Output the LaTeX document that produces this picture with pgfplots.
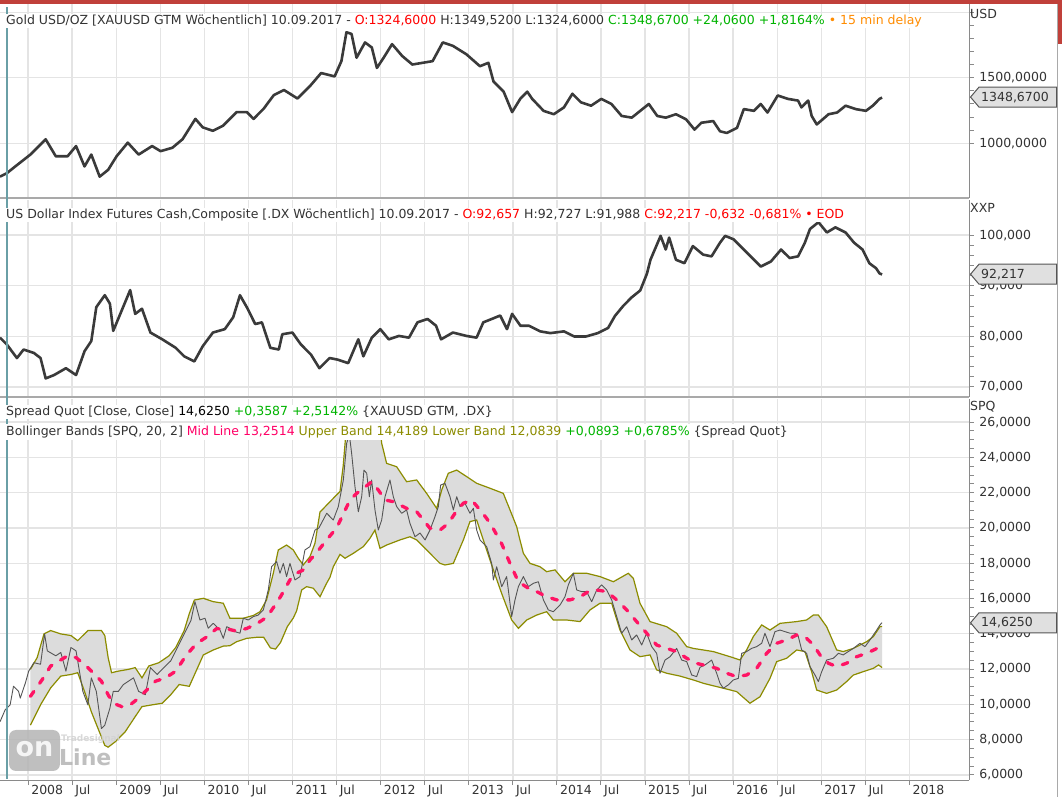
\documentclass[border=0pt]{standalone}
\usepackage{fontspec}
\setmainfont{DejaVu Sans}
\usepackage{pgfplots}
\usepackage{pgfplotstable}
\pgfplotsset{compat=1.18}

\definecolor{gridc}{HTML}{E4E4E4}
\definecolor{axc}{HTML}{8A8A8A}
\definecolor{sepc}{HTML}{A9A9A9}
\definecolor{txtc}{HTML}{333333}
\definecolor{candle}{HTML}{3A3A3A}
\definecolor{spreadc}{HTML}{555555}
\definecolor{bandc}{HTML}{8C8C00}
\definecolor{bandfill}{HTML}{DCDCDC}
\definecolor{midc}{HTML}{FF1464}
\definecolor{gcol}{HTML}{00B400}
\definecolor{ocol}{HTML}{FF8C00}
\definecolor{rcol}{HTML}{FF0000}
\definecolor{pcol}{HTML}{FF0066}
\definecolor{topred}{HTML}{C0403A}
\definecolor{tealc}{HTML}{6A9FA6}
\definecolor{boxc}{HTML}{E0E0E0}
\definecolor{boxd}{HTML}{555555}
\definecolor{wmc}{HTML}{B4B4B4}

\newcommand\tf{\fontsize{12.5pt}{14pt}\selectfont}

\pgfplotsset{
 panel/.style={
  scale only axis, width=969.4pt,
  xmin=2007.681, xmax=2018.681,
  axis x line*=bottom, axis y line*=right,
  xtick={2008,2008.5,2009,2009.5,2010,2010.5,2011,2011.5,2012,2012.5,2013,2013.5,2014,2014.5,2015,2015.5,2016,2016.5,2017,2017.5,2018},
  grid=major,
  major grid style={draw=gridc, line width=1.4pt},
  tick align=outside,
  major tick length=4.5pt, minor tick length=4.5pt,
  ytick style={draw=axc, line width=0.9pt},
  y axis line style={draw=axc, line width=1.6pt},
  yticklabel style={font=\tf, text=txtc, xshift=2pt},
  clip=true,
 },
}

\pgfplotstableread{
x y
2007.681 744.5
2007.758 770.4
2007.854 822.4
2008.026 913.2
2008.199 1030.0
2008.314 900.2
2008.448 900.2
2008.544 978.1
2008.640 822.4
2008.717 913.2
2008.812 744.5
2008.908 796.4
2009.004 900.2
2009.131 1004.1
2009.254 913.2
2009.407 978.1
2009.503 939.2
2009.637 965.1
2009.752 1030.0
2009.898 1185.8
2009.982 1120.9
2010.097 1094.9
2010.212 1133.9
2010.366 1237.7
2010.481 1237.7
2010.558 1185.8
2010.673 1263.7
2010.788 1367.5
2010.903 1406.5
2011.056 1341.6
2011.210 1445.4
2011.325 1536.3
2011.478 1510.3
2011.555 1627.1
2011.612 1847.8
2011.670 1834.8
2011.727 1653.1
2011.823 1769.9
2011.900 1731.0
2011.958 1575.2
2012.034 1653.1
2012.130 1756.9
2012.245 1666.1
2012.360 1601.2
2012.475 1614.1
2012.590 1627.1
2012.705 1769.9
2012.820 1743.9
2012.974 1679.0
2013.127 1588.2
2013.223 1614.1
2013.281 1471.4
2013.396 1393.5
2013.492 1237.7
2013.587 1341.6
2013.664 1393.5
2013.720 1338.7
2013.849 1247.4
2013.965 1221.4
2014.080 1273.5
2014.176 1377.7
2014.273 1312.6
2014.388 1286.5
2014.504 1338.7
2014.619 1299.6
2014.735 1208.4
2014.850 1195.3
2015.043 1299.6
2015.139 1208.4
2015.235 1195.3
2015.351 1221.4
2015.466 1182.3
2015.562 1104.1
2015.639 1156.2
2015.774 1169.3
2015.851 1091.1
2015.928 1078.1
2016.044 1117.2
2016.121 1260.5
2016.236 1247.4
2016.313 1299.6
2016.390 1234.4
2016.506 1364.7
2016.621 1338.7
2016.737 1325.6
2016.775 1273.5
2016.852 1325.6
2016.891 1208.4
2016.949 1143.2
2017.083 1221.4
2017.180 1234.4
2017.276 1286.5
2017.391 1260.5
2017.507 1247.4
2017.584 1286.5
2017.661 1338.7
2017.690 1348.7
}\tabGold

\pgfplotstableread{
x y
2007.681 79.74
2007.758 78.40
2007.873 75.71
2007.949 77.39
2008.065 76.72
2008.141 75.71
2008.199 71.68
2008.295 72.35
2008.429 73.70
2008.544 72.35
2008.640 77.05
2008.717 79.07
2008.774 85.78
2008.870 88.13
2008.928 86.46
2008.966 81.08
2009.062 85.11
2009.158 89.14
2009.215 84.44
2009.292 85.45
2009.388 80.75
2009.522 79.41
2009.675 77.73
2009.771 76.05
2009.886 75.04
2009.982 78.06
2010.097 80.75
2010.232 81.42
2010.327 83.77
2010.404 88.13
2010.481 85.78
2010.577 82.43
2010.653 82.76
2010.749 77.73
2010.845 77.39
2010.884 80.41
2010.999 80.75
2011.095 78.40
2011.210 76.38
2011.305 73.70
2011.421 75.71
2011.516 75.38
2011.632 74.70
2011.747 79.41
2011.804 76.05
2011.900 79.74
2011.996 81.42
2012.092 79.41
2012.207 80.08
2012.322 79.74
2012.418 82.76
2012.533 83.43
2012.629 82.09
2012.686 79.41
2012.820 80.75
2012.974 80.08
2013.089 79.74
2013.165 82.76
2013.357 84.11
2013.434 81.42
2013.492 84.44
2013.587 82.09
2013.683 82.09
2013.811 80.98
2013.926 80.64
2014.080 80.98
2014.196 79.97
2014.330 79.97
2014.465 80.64
2014.581 81.66
2014.658 84.01
2014.754 86.04
2014.850 87.72
2014.946 89.07
2015.023 92.44
2015.062 95.14
2015.177 99.86
2015.235 97.16
2015.274 99.52
2015.351 95.14
2015.447 94.46
2015.543 97.84
2015.659 96.15
2015.755 95.81
2015.851 98.51
2015.909 99.86
2016.005 99.18
2016.101 97.50
2016.198 95.81
2016.313 93.79
2016.429 94.80
2016.544 97.16
2016.641 95.48
2016.737 95.81
2016.814 98.51
2016.872 101.21
2016.968 102.56
2017.064 100.53
2017.160 101.54
2017.276 100.53
2017.372 98.51
2017.468 97.16
2017.545 94.46
2017.622 93.46
2017.661 92.44
2017.690 92.22
}\tabDx

\pgfplotstableread{
x y
2007.681 9.01
2007.739 9.68
2007.796 9.97
2007.834 11.02
2007.892 10.73
2007.911 10.35
2007.969 11.21
2008.007 11.88
2008.065 12.36
2008.141 12.27
2008.187 13.99
2008.218 13.03
2008.314 12.75
2008.371 12.94
2008.429 11.88
2008.486 13.22
2008.544 13.03
2008.582 11.88
2008.621 10.73
2008.678 9.97
2008.717 11.50
2008.774 10.73
2008.832 8.63
2008.870 8.82
2008.928 9.78
2008.966 10.73
2009.023 10.73
2009.081 11.12
2009.138 11.31
2009.196 11.50
2009.254 10.73
2009.330 10.54
2009.388 12.08
2009.464 11.69
2009.541 12.08
2009.618 12.46
2009.695 13.22
2009.771 13.99
2009.848 14.76
2009.893 15.82
2009.950 14.78
2010.007 14.88
2010.044 14.31
2010.101 14.59
2010.139 14.40
2010.177 14.21
2010.215 13.74
2010.253 14.40
2010.290 14.31
2010.347 14.12
2010.404 14.03
2010.442 14.88
2010.498 14.78
2010.555 14.97
2010.612 15.06
2010.669 15.35
2010.725 16.48
2010.763 17.80
2010.820 18.09
2010.858 17.43
2010.896 17.99
2010.933 17.24
2010.971 17.99
2011.028 17.05
2011.085 17.24
2011.141 18.75
2011.198 18.94
2011.255 19.88
2011.300 20.00
2011.388 20.83
2011.463 20.45
2011.520 21.21
2011.577 22.72
2011.615 24.80
2011.645 25.30
2011.671 24.23
2011.709 22.34
2011.747 20.92
2011.785 21.77
2011.811 23.28
2011.842 23.10
2011.872 21.77
2011.898 22.72
2011.936 21.02
2011.974 19.88
2012.012 20.45
2012.050 21.77
2012.106 22.72
2012.144 21.77
2012.182 21.21
2012.239 20.83
2012.295 21.02
2012.333 20.26
2012.390 19.50
2012.447 19.71
2012.504 19.32
2012.560 19.88
2012.617 20.64
2012.655 21.21
2012.681 22.43
2012.730 22.53
2012.787 21.77
2012.825 21.02
2012.863 21.77
2012.901 21.21
2012.957 21.40
2013.014 20.83
2013.052 21.11
2013.090 19.88
2013.128 19.32
2013.203 18.94
2013.260 17.99
2013.279 17.05
2013.317 17.80
2013.374 16.67
2013.430 17.24
2013.487 14.97
2013.525 15.92
2013.563 16.67
2013.620 17.24
2013.676 16.67
2013.733 16.86
2013.790 16.95
2013.847 15.92
2013.903 15.35
2013.960 15.25
2014.036 15.63
2014.092 16.10
2014.130 16.77
2014.187 17.43
2014.225 16.48
2014.281 16.39
2014.338 16.39
2014.395 15.82
2014.452 16.48
2014.508 16.77
2014.565 16.48
2014.622 15.92
2014.679 14.97
2014.735 14.03
2014.792 14.40
2014.849 13.65
2014.905 13.93
2014.962 13.36
2015.019 14.03
2015.076 13.27
2015.132 12.89
2015.170 11.76
2015.227 12.51
2015.284 12.70
2015.359 13.17
2015.416 12.51
2015.473 12.42
2015.530 11.66
2015.586 11.57
2015.624 12.10
2015.681 12.23
2015.756 12.51
2015.813 11.76
2015.851 11.19
2015.889 10.91
2015.945 11.10
2016.002 11.38
2016.059 11.47
2016.097 12.89
2016.153 12.99
2016.210 13.17
2016.267 13.27
2016.324 13.46
2016.361 14.03
2016.418 13.27
2016.475 14.12
2016.532 14.21
2016.588 14.12
2016.645 14.03
2016.702 14.03
2016.740 13.84
2016.778 13.08
2016.834 12.89
2016.872 12.14
2016.929 11.66
2016.967 11.29
2017.005 11.85
2017.061 12.51
2017.137 12.61
2017.194 12.89
2017.250 12.80
2017.307 12.99
2017.364 13.17
2017.439 13.46
2017.496 13.27
2017.553 13.65
2017.629 14.21
2017.666 14.50
2017.690 14.625
}\tabSpread

\pgfplotstableread{
x y
2008.026 11.98
2008.103 12.65
2008.180 13.99
2008.256 14.18
2008.371 13.99
2008.486 13.90
2008.563 13.61
2008.678 14.18
2008.832 14.18
2008.870 13.90
2008.908 12.65
2008.947 11.79
2009.023 11.88
2009.138 11.98
2009.215 12.08
2009.292 11.50
2009.369 12.17
2009.484 12.36
2009.599 12.75
2009.675 13.22
2009.771 14.18
2009.829 15.14
2009.886 15.91
2009.988 16.01
2010.101 15.82
2010.215 15.73
2010.290 14.88
2010.442 14.88
2010.558 15.04
2010.631 15.25
2010.706 15.92
2010.782 17.43
2010.839 18.75
2010.933 19.03
2011.009 18.75
2011.066 18.28
2011.122 17.90
2011.198 18.37
2011.255 19.13
2011.312 20.90
2011.463 21.68
2011.539 22.06
2011.575 23.50
2011.600 25.00
2011.640 25.85
2011.990 25.85
2012.012 24.80
2012.068 23.66
2012.182 23.47
2012.295 22.62
2012.409 22.72
2012.522 21.96
2012.636 21.11
2012.693 22.15
2012.768 23.10
2012.863 23.28
2012.976 22.91
2013.090 22.53
2013.241 22.25
2013.392 21.96
2013.468 21.02
2013.544 20.07
2013.581 19.32
2013.620 18.56
2013.695 17.99
2013.809 17.80
2013.884 17.52
2013.979 17.62
2014.092 16.95
2014.187 17.43
2014.338 17.43
2014.490 17.24
2014.641 16.95
2014.811 17.43
2014.868 17.14
2014.943 15.73
2015.057 14.69
2015.246 14.40
2015.359 14.03
2015.473 13.27
2015.548 13.17
2015.775 12.99
2015.964 12.70
2016.078 12.51
2016.153 13.08
2016.229 13.84
2016.324 14.50
2016.418 14.21
2016.532 14.59
2016.721 14.69
2016.834 14.78
2016.910 15.06
2016.967 15.06
2017.061 14.40
2017.175 13.08
2017.250 12.99
2017.364 13.17
2017.515 13.55
2017.591 13.84
2017.666 14.40
2017.690 14.42
}\tabUpper

\pgfplotstableread{
x y
2008.026 8.82
2008.141 9.97
2008.256 10.93
2008.371 11.60
2008.486 11.69
2008.563 11.79
2008.640 10.73
2008.717 9.58
2008.793 8.63
2008.870 7.67
2008.908 7.57
2008.985 7.86
2009.100 8.43
2009.215 9.30
2009.292 9.87
2009.407 9.97
2009.522 10.06
2009.618 10.54
2009.714 11.12
2009.829 11.02
2009.906 11.88
2009.988 12.80
2010.101 13.08
2010.215 13.30
2010.289 13.32
2010.366 13.55
2010.480 13.74
2010.596 13.80
2010.673 13.80
2010.749 13.20
2010.807 13.13
2010.864 13.50
2010.941 14.40
2011.010 14.90
2011.047 15.30
2011.104 16.48
2011.160 16.67
2011.236 16.58
2011.312 16.10
2011.387 16.86
2011.425 17.20
2011.463 17.80
2011.539 18.50
2011.596 18.28
2011.690 18.56
2011.804 18.94
2011.879 19.41
2011.936 19.88
2011.993 18.84
2012.068 19.03
2012.220 19.32
2012.333 19.50
2012.409 19.32
2012.560 18.56
2012.674 17.99
2012.730 17.90
2012.825 17.99
2012.939 19.32
2013.014 20.36
2013.090 20.45
2013.128 19.88
2013.279 17.62
2013.373 16.29
2013.430 15.54
2013.487 14.78
2013.563 14.31
2013.657 14.78
2013.771 15.06
2013.884 15.25
2013.960 14.78
2014.111 14.78
2014.263 14.69
2014.376 15.35
2014.490 15.73
2014.622 15.73
2014.716 14.21
2014.830 13.08
2014.943 12.70
2015.057 12.80
2015.132 11.95
2015.246 11.76
2015.397 11.60
2015.548 11.38
2015.662 11.19
2015.889 10.91
2016.040 10.72
2016.191 10.06
2016.305 10.43
2016.418 11.47
2016.494 12.42
2016.607 12.61
2016.721 13.08
2016.815 12.99
2016.891 11.85
2016.948 10.81
2017.061 10.62
2017.175 10.81
2017.288 11.29
2017.364 11.66
2017.477 11.85
2017.591 12.04
2017.650 12.23
2017.690 12.08
}\tabLower

% band outline: upper band forward, then lower band backward
\pgfplotstableread{
x y
2008.026 11.98
2008.103 12.65
2008.180 13.99
2008.256 14.18
2008.371 13.99
2008.486 13.90
2008.563 13.61
2008.678 14.18
2008.832 14.18
2008.870 13.90
2008.908 12.65
2008.947 11.79
2009.023 11.88
2009.138 11.98
2009.215 12.08
2009.292 11.50
2009.369 12.17
2009.484 12.36
2009.599 12.75
2009.675 13.22
2009.771 14.18
2009.829 15.14
2009.886 15.91
2009.988 16.01
2010.101 15.82
2010.215 15.73
2010.290 14.88
2010.442 14.88
2010.558 15.04
2010.631 15.25
2010.706 15.92
2010.782 17.43
2010.839 18.75
2010.933 19.03
2011.009 18.75
2011.066 18.28
2011.122 17.90
2011.198 18.37
2011.255 19.13
2011.312 20.90
2011.463 21.68
2011.539 22.06
2011.575 23.50
2011.600 25.00
2011.640 25.85
2011.990 25.85
2012.012 24.80
2012.068 23.66
2012.182 23.47
2012.295 22.62
2012.409 22.72
2012.522 21.96
2012.636 21.11
2012.693 22.15
2012.768 23.10
2012.863 23.28
2012.976 22.91
2013.090 22.53
2013.241 22.25
2013.392 21.96
2013.468 21.02
2013.544 20.07
2013.581 19.32
2013.620 18.56
2013.695 17.99
2013.809 17.80
2013.884 17.52
2013.979 17.62
2014.092 16.95
2014.187 17.43
2014.338 17.43
2014.490 17.24
2014.641 16.95
2014.811 17.43
2014.868 17.14
2014.943 15.73
2015.057 14.69
2015.246 14.40
2015.359 14.03
2015.473 13.27
2015.548 13.17
2015.775 12.99
2015.964 12.70
2016.078 12.51
2016.153 13.08
2016.229 13.84
2016.324 14.50
2016.418 14.21
2016.532 14.59
2016.721 14.69
2016.834 14.78
2016.910 15.06
2016.967 15.06
2017.061 14.40
2017.175 13.08
2017.250 12.99
2017.364 13.17
2017.515 13.55
2017.591 13.84
2017.666 14.40
2017.690 14.42
2017.690 12.08
2017.650 12.23
2017.591 12.04
2017.477 11.85
2017.364 11.66
2017.288 11.29
2017.175 10.81
2017.061 10.62
2016.948 10.81
2016.891 11.85
2016.815 12.99
2016.721 13.08
2016.607 12.61
2016.494 12.42
2016.418 11.47
2016.305 10.43
2016.191 10.06
2016.040 10.72
2015.889 10.91
2015.662 11.19
2015.548 11.38
2015.397 11.60
2015.246 11.76
2015.132 11.95
2015.057 12.80
2014.943 12.70
2014.830 13.08
2014.716 14.21
2014.622 15.73
2014.490 15.73
2014.376 15.35
2014.263 14.69
2014.111 14.78
2013.960 14.78
2013.884 15.25
2013.771 15.06
2013.657 14.78
2013.563 14.31
2013.487 14.78
2013.430 15.54
2013.373 16.29
2013.279 17.62
2013.128 19.88
2013.090 20.45
2013.014 20.36
2012.939 19.32
2012.825 17.99
2012.730 17.90
2012.674 17.99
2012.560 18.56
2012.409 19.32
2012.333 19.50
2012.220 19.32
2012.068 19.03
2011.993 18.84
2011.936 19.88
2011.879 19.41
2011.804 18.94
2011.690 18.56
2011.596 18.28
2011.539 18.50
2011.463 17.80
2011.425 17.20
2011.387 16.86
2011.312 16.10
2011.236 16.58
2011.160 16.67
2011.104 16.48
2011.047 15.30
2011.010 14.90
2010.941 14.40
2010.864 13.50
2010.807 13.13
2010.749 13.20
2010.673 13.80
2010.596 13.80
2010.480 13.74
2010.366 13.55
2010.289 13.32
2010.215 13.30
2010.101 13.08
2009.988 12.80
2009.906 11.88
2009.829 11.02
2009.714 11.12
2009.618 10.54
2009.522 10.06
2009.407 9.97
2009.292 9.87
2009.215 9.30
2009.100 8.43
2008.985 7.86
2008.908 7.57
2008.870 7.67
2008.793 8.63
2008.717 9.58
2008.640 10.73
2008.563 11.79
2008.486 11.69
2008.371 11.60
2008.256 10.93
2008.141 9.97
2008.026 8.82
}\tabBand

\pgfplotstableread{
x y
2008.026 10.45
2008.160 11.40
2008.256 12.17
2008.352 12.46
2008.448 12.75
2008.544 12.65
2008.678 12.08
2008.832 11.31
2008.908 10.54
2008.966 10.06
2009.062 9.87
2009.158 9.97
2009.254 10.35
2009.330 10.73
2009.445 11.31
2009.560 11.50
2009.675 11.88
2009.790 12.75
2009.906 13.42
2010.020 13.80
2010.136 14.28
2010.251 14.28
2010.366 14.15
2010.481 14.30
2010.596 14.57
2010.711 14.95
2010.788 15.52
2010.864 16.10
2010.971 17.05
2011.047 17.43
2011.122 17.62
2011.198 18.18
2011.274 18.60
2011.387 19.32
2011.501 20.00
2011.652 21.58
2011.728 21.96
2011.804 22.24
2011.898 22.62
2011.974 22.15
2012.050 21.58
2012.144 21.49
2012.295 21.11
2012.409 20.92
2012.485 20.45
2012.560 19.98
2012.674 19.88
2012.768 20.26
2012.844 20.83
2012.938 21.40
2013.033 21.58
2013.128 21.02
2013.203 20.54
2013.279 19.95
2013.374 19.10
2013.468 17.99
2013.563 16.95
2013.676 16.58
2013.771 16.39
2013.884 16.10
2013.998 15.92
2014.149 15.92
2014.263 16.10
2014.357 16.39
2014.452 16.48
2014.565 16.39
2014.679 15.92
2014.792 15.35
2014.905 14.69
2015.019 14.03
2015.132 13.36
2015.246 13.17
2015.359 12.99
2015.473 12.61
2015.586 12.32
2015.662 12.23
2015.813 12.04
2015.927 11.76
2016.040 11.57
2016.153 11.66
2016.267 12.04
2016.380 12.89
2016.494 13.46
2016.607 13.65
2016.721 13.93
2016.834 13.74
2016.910 13.37
2016.986 12.80
2017.080 12.33
2017.175 12.14
2017.288 12.33
2017.402 12.70
2017.515 12.89
2017.666 13.25
2017.690 13.25
}\tabMid

\begin{document}
\begin{tikzpicture}
\useasboundingbox (0pt,0pt) rectangle (1062pt,797pt);
\fill[white] (0pt,0pt) rectangle (1062pt,797pt);

% Panel 1: Gold
\begin{axis}[panel, at={(0pt,599pt)}, anchor=south west, height=194pt,
  ymin=581.4, ymax=2063.7,
  ytick={1000,1500,2000}, yticklabels={{1000,0000},{1500,0000},{}},
  minor y tick num=4,
  xticklabels={}, xtick style={draw=none},
  x axis line style={draw=sepc, line width=2.5pt}]
\addplot[candle, line width=2.6pt, line join=round] table {\tabGold};
\end{axis}

% Panel 2: Dollar index
\begin{axis}[panel, at={(0pt,400pt)}, anchor=south west, height=197pt,
  ymin=68.01, ymax=106.95,
  ytick={70,80,90,100}, yticklabels={{70,000},{80,000},{90,000},{100,000}},
  minor y tick num=4,
  xticklabels={}, xtick style={draw=none},
  x axis line style={draw=sepc, line width=2.5pt}]
\addplot[candle, line width=2.6pt, line join=round] table {\tabDx};
\end{axis}

% Panel 3: Spread with Bollinger bands
\begin{axis}[panel, at={(0pt,16.5pt)}, anchor=south west, height=381.5pt,
  ymin=5.68, ymax=27.31,
  ytick={6,8,10,12,14,16,18,20,22,24,26},
  yticklabels={{6,0000},{8,0000},{10,0000},{12,0000},{14,0000},{16,0000},{18,0000},{20,0000},{22,0000},{24,0000},{26,0000}},
  minor y tick num=3,
  xticklabels={2008,Jul,2009,Jul,2010,Jul,2011,Jul,2012,Jul,2013,Jul,2014,Jul,2015,Jul,2016,Jul,2017,Jul,2018},
  xtick style={draw=axc, line width=0.9pt},
  x axis line style={draw=axc, line width=1.6pt},
  xticklabel style={anchor=north west, inner sep=0pt, text depth=0pt, font=\tf, text=txtc, xshift=3pt, yshift=0pt}]
\addplot[fill=bandfill, draw=none] table {\tabBand} -- cycle;
\addplot[draw=bandc, line width=1.2pt] table {\tabUpper};
\addplot[draw=bandc, line width=1.2pt] table {\tabLower};
\addplot[spreadc, line width=0.9pt, line join=round] table {\tabSpread};
\addplot[midc, line width=3.3pt, line cap=round, dash pattern=on 6pt off 10pt] table {\tabMid};
\end{axis}

% cursor line
\draw[tealc, line width=1.5pt] (6.8pt,18pt) -- (6.8pt,790pt);

% top bar and scrollbar
\fill[topred] (0pt,793pt) rectangle (1062pt,797pt);
\draw[sepc, line width=1pt] (1057.5pt,0pt) -- (1057.5pt,793pt);
\fill[topred] (1058pt,753pt) rectangle (1062pt,797pt);

% titles
\node[anchor=west, fill=white, inner sep=1pt, font=\tf, text=txtc] at (5pt,776pt)
 {Gold USD/OZ [XAUUSD GTM Wöchentlich] 10.09.2017 - \textcolor{rcol}{O:1324,6000} H:1349,5200 L:1324,6000 \textcolor{gcol}{C:1348,6700 +24,0600 +1,8164\%} \textcolor{ocol}{• 15 min delay}};
\node[anchor=west, fill=white, inner sep=1pt, font=\tf, text=txtc] at (5pt,581.7pt)
 {US Dollar Index Futures Cash,Composite [.DX Wöchentlich] 10.09.2017 - \textcolor{rcol}{O:92,657} H:92,727 L:91,988 \textcolor{rcol}{C:92,217 -0,632 -0,681\% • EOD}};
\node[anchor=west, fill=white, inner sep=1pt, font=\tf, text=txtc] at (5pt,385.1pt)
 {Spread Quot [Close, Close] \textcolor{black}{14,6250} \textcolor{gcol}{+0,3587 +2,5142\%} \{XAUUSD GTM, .DX\}};
\node[anchor=west, fill=white, inner sep=1pt, minimum height=16pt, font=\tf, text=txtc] at (5pt,364.8pt)
 {Bollinger Bands [SPQ, 20, 2] \textcolor{pcol}{Mid Line 13,2514} \textcolor{bandc}{Upper Band 14,4189 Lower Band 12,0839} \textcolor{gcol}{+0,0893 +0,6785\%} \{Spread Quot\}};

% unit labels
\node[anchor=west, inner sep=0pt, font=\tf, text=txtc] at (970pt,782.7pt) {USD};
\node[anchor=west, inner sep=0pt, font=\tf, text=txtc] at (970pt,589pt) {XXP};
\node[anchor=west, inner sep=0pt, font=\tf, text=txtc] at (970pt,390pt) {SPQ};

% value boxes
\foreach \c/\t in {699.9/{1348,6700}, 522.8/{92,217}, 174.2/{14,6250}} {
  \filldraw[fill=boxc, draw=boxd, line width=1pt]
    (970.5pt,\c pt) -- (979pt,\c pt+10pt) -- (1056.5pt,\c pt+10pt) -- (1056.5pt,\c pt-10pt) -- (979pt,\c pt-10pt) -- cycle;
  \node[anchor=west, inner sep=0pt, font=\tf, text=txtc] at (981pt,\c pt) {\t};
}

% watermark
\begin{scope}[opacity=0.85]
\fill[wmc, rounded corners=7pt] (9pt,26pt) rectangle (60pt,67pt);
\node[font=\fontsize{27pt}{27pt}\selectfont\bfseries, text=white, inner sep=0pt] at (34.5pt,48pt) {on};
\node[anchor=west, font=\fontsize{22pt}{22pt}\selectfont\bfseries, text=wmc, inner sep=0pt] at (59pt,40pt) {Line};
\node[anchor=west, font=\fontsize{9pt}{9pt}\selectfont\bfseries, text=wmc!60, inner sep=0pt] at (61pt,58pt) {Tradesignal};
\end{scope}
\end{tikzpicture}
\end{document}
